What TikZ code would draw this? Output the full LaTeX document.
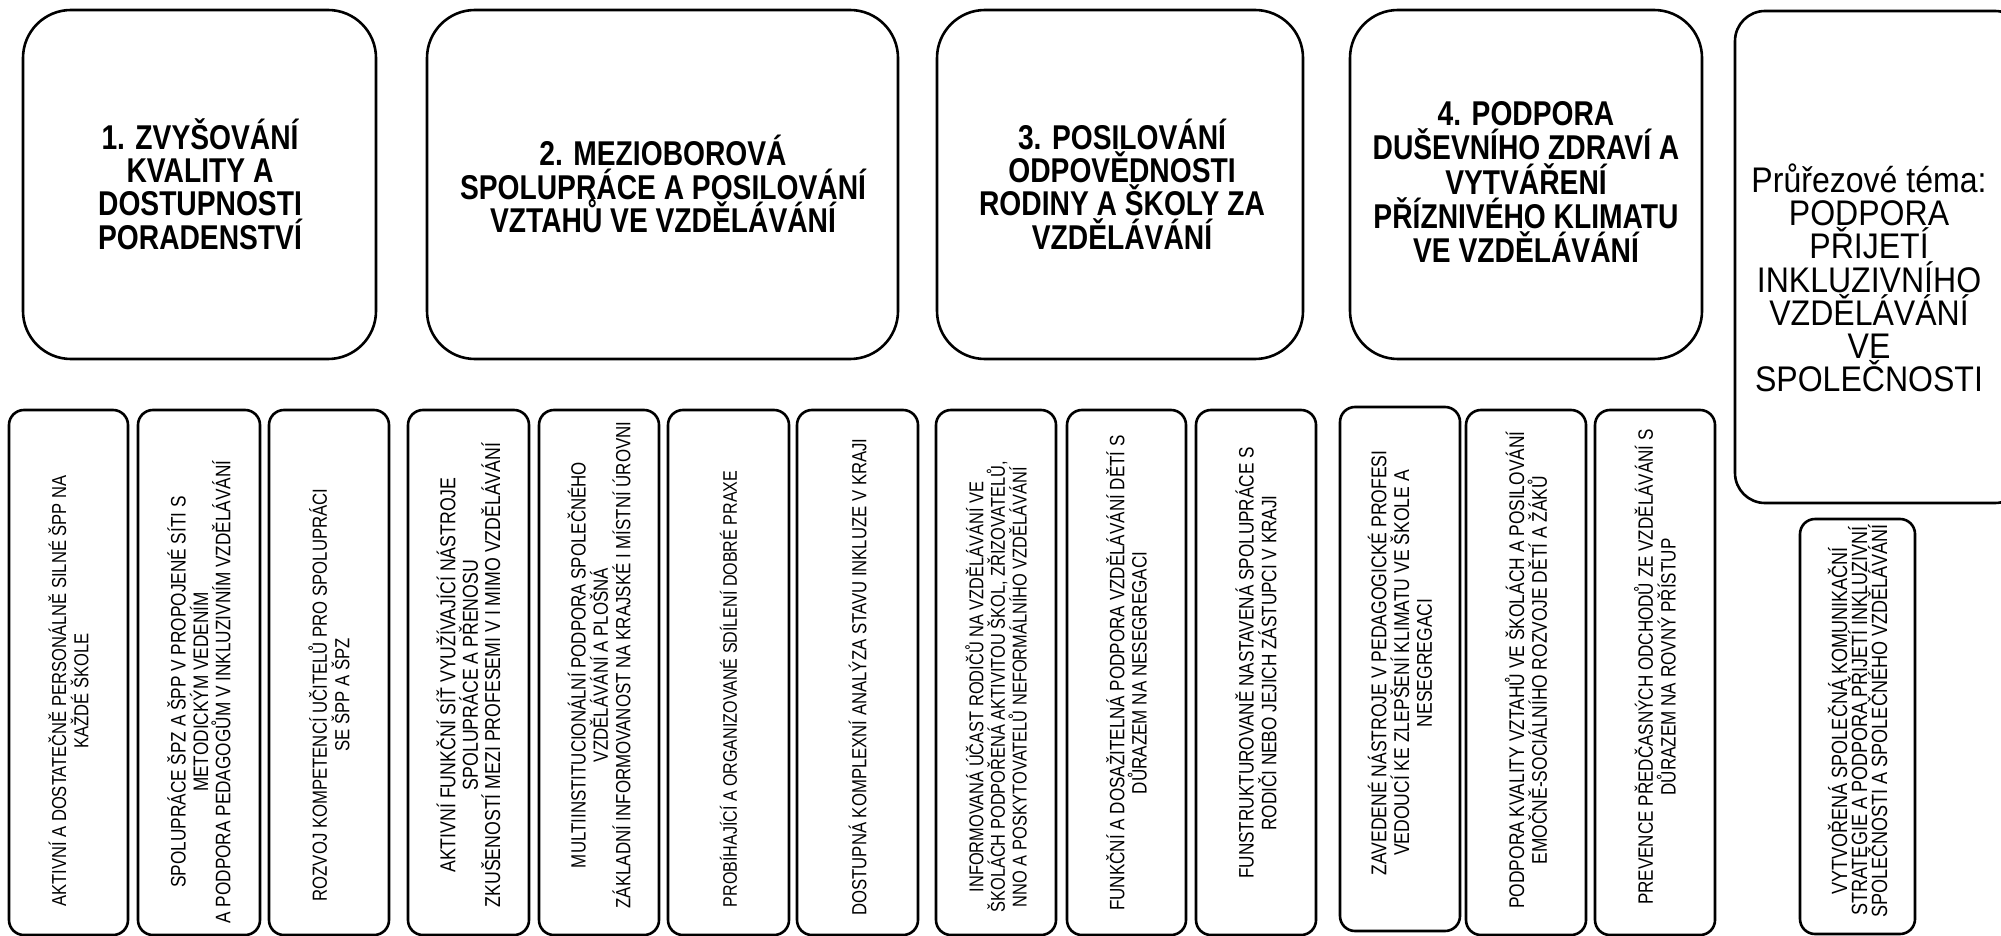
\documentclass[tikz,border=0pt]{standalone}
\usepackage{fontspec}
\setmainfont{Liberation Sans}[FakeStretch=0.82]
\newfontfamily\sidefont{Liberation Sans}[FakeStretch=0.9]
\newcommand{\tightlines}{\lineskiplimit=-100pt\lineskip=0pt\relax}
\tikzset{
  bigbox/.style={draw, line width=1.3pt, rounded corners=24pt, inner sep=0pt},
  sidebox/.style={draw, line width=1.3pt, rounded corners=15pt, inner sep=0pt},
  smallbox/.style={draw, line width=1.3pt, rounded corners=7.5pt, inner sep=0pt},
  titletext/.style={font=\bfseries\fontsize{17.2}{16.6}\selectfont\tightlines, align=center, inner sep=0pt},
  sidetext/.style={font=\sidefont\fontsize{17.8}{16.6}\selectfont\tightlines, align=center, inner sep=0pt},
  stext/.style={rotate=90, align=center, inner sep=0pt},
}
\newcommand{\mybox}[6]{%
  \node[#2, minimum width={(#5-#3)*0.5pt}, minimum height={(#6-#4)*0.5pt}] (#1) at ({(#3+#5)/2},{(#4+#6)/2}) {};}
\begin{document}
\begin{tikzpicture}[x=0.5pt, y=-0.5pt]
\useasboundingbox (0,0) rectangle (2001,936);
\clip (0,0) rectangle (2001,936);
% top boxes
\mybox{b1}{bigbox}{23}{10}{376}{359}
\mybox{b2}{bigbox}{427}{10}{898}{359}
\mybox{b3}{bigbox}{937}{10}{1303}{359}
\mybox{b4}{bigbox}{1350}{10}{1702}{359}
\mybox{b5}{sidebox}{1735}{11}{2025}{503}
\node[titletext] (t1) at (200,184) {1. ZVYŠOVÁNÍ\\KVALITY A\\DOSTUPNOSTI\\PORADENSTVÍ};
\node[titletext] (t2) at (663,184) {2. MEZIOBOROVÁ\\SPOLUPRÁCE A POSILOVÁNÍ\\VZTAHŮ VE VZDĚLÁVÁNÍ};
\node[titletext] (t3) at (1122,184) {3. POSILOVÁNÍ\\ODPOVĚDNOSTI\\RODINY A ŠKOLY ZA\\VZDĚLÁVÁNÍ};
\node[titletext, font=\bfseries\fontsize{17.2}{17.2}\selectfont\tightlines] (t4) at (1526,182) {4. PODPORA\\DUŠEVNÍHO ZDRAVÍ A\\VYTVÁŘENÍ\\PŘÍZNIVÉHO KLIMATU\\VE VZDĚLÁVÁNÍ};
\node[sidetext] (t5) at (1869,278) {Průřezové téma:\\PODPORA\\PŘIJETÍ\\INKLUZIVNÍHO\\VZDĚLÁVÁNÍ\\VE\\SPOLEČNOSTI};
% small boxes
\mybox{s1}{smallbox}{9}{410}{128}{935}
\mybox{s2}{smallbox}{138}{410}{260}{935}
\mybox{s3}{smallbox}{269}{410}{389}{935}
\mybox{s4}{smallbox}{408}{410}{529}{935}
\mybox{s5}{smallbox}{539}{410}{659}{935}
\mybox{s6}{smallbox}{668}{410}{789}{935}
\mybox{s7}{smallbox}{797}{410}{918}{935}
\mybox{s8}{smallbox}{936}{410}{1056}{935}
\mybox{s9}{smallbox}{1067}{410}{1186}{935}
\mybox{s10}{smallbox}{1196}{410}{1316}{935}
\mybox{s11}{smallbox}{1340}{407}{1460}{931}
\mybox{s12}{smallbox}{1466}{410}{1586}{935}
\mybox{s13}{smallbox}{1595}{410}{1715}{935}
\mybox{s14}{smallbox}{1800}{519}{1915}{934}
% small texts
\node[stext, font=\fontsize{10.1}{11.2}\selectfont] (st1) at (68.5,691) {AKTIVNÍ A DOSTATEČNĚ PERSONÁLNĚ SILNÉ ŠPP NA\\KAŽDÉ ŠKOLE};
\node[stext, font=\fontsize{10.5}{11.2}\selectfont] (st2) at (199,692) {SPOLUPRÁCE ŠPZ A ŠPP V PROPOJENÉ SÍTI S\\METODICKÝM VEDENÍM\\A PODPORA PEDAGOGŮM V INKLUZIVNÍM VZDĚLÁVÁNÍ};
\node[stext, font=\fontsize{10.2}{11.2}\selectfont] (st3) at (329,695) {ROZVOJ KOMPETENCÍ UČITELŮ PRO SPOLUPRÁCI\\SE ŠPP A ŠPZ};
\node[stext, font=\fontsize{10.8}{11.2}\selectfont] (st4) at (468.5,675) {AKTIVNÍ FUNKČNÍ SÍŤ VYUŽÍVAJÍCÍ NÁSTROJE\\SPOLUPRÁCE A PŘENOSU\\ZKUŠENOSTÍ MEZI PROFESEMI V I MIMO VZDĚLÁVÁNÍ};
\node[stext, font=\fontsize{10.3}{11.2}\selectfont] (st5) at (599,665) {MULTIINSTITUCIONÁLNÍ PODPORA SPOLEČNÉHO\\VZDĚLÁVÁNÍ A PLOŠNÁ\\ZÁKLADNÍ INFORMOVANOST NA KRAJSKÉ I MÍSTNÍ ÚROVNI};
\node[stext, font=\fontsize{9.8}{10.9}\selectfont] (st6) at (728.5,689) {PROBÍHAJÍCÍ A ORGANIZOVANÉ SDÍLENÍ DOBRÉ PRAXE};
\node[stext, font=\fontsize{10.2}{10.9}\selectfont] (st7) at (857.5,677) {DOSTUPNÁ KOMPLEXNÍ ANALÝZA STAVU INKLUZE V KRAJI};
\node[stext, font=\fontsize{10}{10.8}\selectfont] (st8) at (996,687) {INFORMOVANÁ ÚČAST RODIČŮ NA VZDĚLÁVÁNÍ VE\\ŠKOLÁCH PODPOŘENÁ AKTIVITOU ŠKOL, ZŘIZOVATELŮ,\\NNO A POSKYTOVATELŮ NEFORMÁLNÍHO VZDĚLÁVÁNÍ};
\node[stext, font=\fontsize{10.4}{11.2}\selectfont] (st9) at (1126.5,673) {FUNKČNÍ A DOSAŽITELNÁ PODPORA VZDĚLÁVÁNÍ DĚTÍ S\\DŮRAZEM NA NESEGREGACI};
\node[stext, font=\fontsize{10.45}{11.4}\selectfont] (st10) at (1256,663) {FUNSTRUKTUROVANĚ NASTAVENÁ SPOLUPRÁCE S\\RODIČI NEBO JEJICH ZÁSTUPCI V KRAJI};
\node[stext, font=\fontsize{10.7}{11.4}\selectfont] (st11) at (1400,663) {ZAVEDENÉ NÁSTROJE V PEDAGOGICKÉ PROFESI\\VEDOUCÍ KE ZLEPŠENÍ KLIMATU VE ŠKOLE A\\NESEGREGACI};
\node[stext, font=\fontsize{10.6}{11.4}\selectfont] (st12) at (1526,670) {PODPORA KVALITY VZTAHŮ VE ŠKOLÁCH A POSILOVÁNÍ\\EMOČNĚ-SOCIÁLNÍHO ROZVOJE DĚTÍ A ŽÁKŮ};
\node[stext, font=\fontsize{10.4}{11.4}\selectfont] (st13) at (1655,667) {PREVENCE PŘEDČASNÝCH ODCHODŮ ZE VZDĚLÁVÁNÍ S\\DŮRAZEM NA ROVNÝ PŘÍSTUP};
\node[stext, font=\fontsize{11}{10}\selectfont\tightlines] (st14) at (1857.5,721) {VYTVOŘENÁ SPOLEČNÁ KOMUNIKAČNÍ\\STRATEGIE A PODPORA PŘIJETÍ INKLUZIVNÍ\\SPOLEČNOSTI A SPOLEČNÉHO VZDĚLÁVÁNÍ};
\end{tikzpicture}
\end{document}
